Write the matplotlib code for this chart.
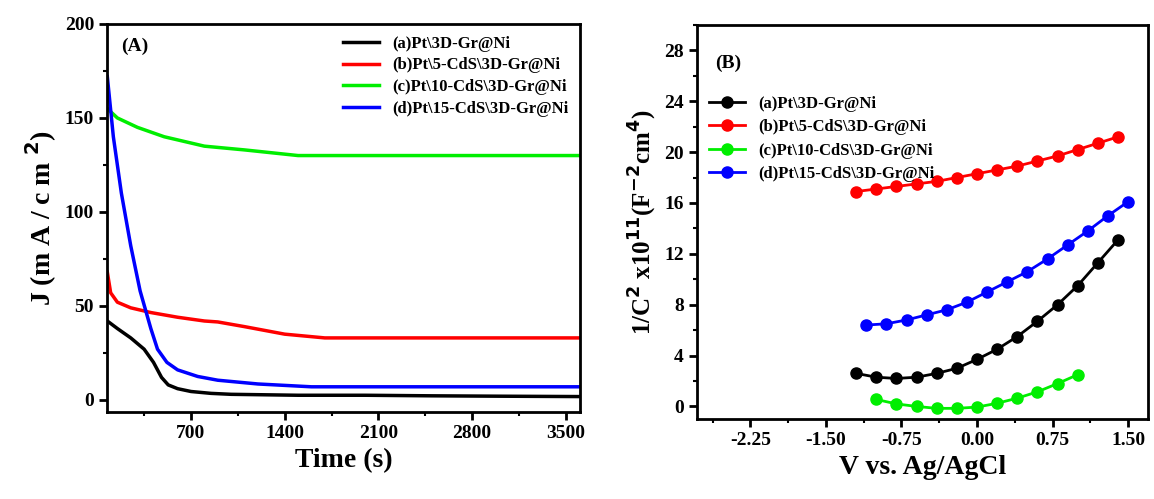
import matplotlib
matplotlib.use("Agg")
import matplotlib.pyplot as plt
import numpy as np
from matplotlib.ticker import MultipleLocator

plt.rcParams['font.family'] = ['Liberation Serif', 'DejaVu Serif']
plt.rcParams['font.weight'] = 'bold'
plt.rcParams['axes.unicode_minus'] = False

labels = [r"(a)Pt\3D-Gr@Ni", r"(b)Pt\5-CdS\3D-Gr@Ni", r"(c)Pt\10-CdS\3D-Gr@Ni", r"(d)Pt\15-CdS\3D-Gr@Ni"]
colors = ["black", "red", "#00ee00", "blue"]

# Panel A
tA_black = [75, 150, 250, 350, 420, 480, 530, 600, 700, 850, 1000, 1500, 2000, 2500, 3000, 3600]
jA_black = [42, 38, 33, 27, 20, 12, 8, 6, 4.5, 3.5, 3, 2.5, 2.5, 2.2, 2, 1.8]
tA_red = [75, 100, 150, 250, 400, 600, 800, 900, 1100, 1400, 1700, 2500, 3600]
jA_red = [68, 57, 52, 49, 46.5, 44, 42, 41.5, 39, 35, 33, 33, 33]
tA_green = [75, 150, 300, 500, 800, 1100, 1500, 2500, 3600]
jA_green = [155, 150, 145, 140, 135, 133, 130, 130, 130]
tA_blue = [75, 120, 180, 250, 320, 400, 450, 520, 600, 750, 900, 1200, 1600, 2500, 3600]
jA_blue = [172, 140, 110, 82, 58, 38, 27, 20, 16, 12.5, 10.5, 8.5, 7, 7, 7]

# Panel B
vB_black = [-1.2, -1.0, -0.8, -0.6, -0.4, -0.2, 0.0, 0.2, 0.4, 0.6, 0.8, 1.0, 1.2, 1.4]
cB_black = [2.6, 2.3, 2.2, 2.3, 2.6, 3.0, 3.7, 4.5, 5.5, 6.7, 8.0, 9.5, 11.3, 13.1]
vB_red = [-1.2, -1.0, -0.8, -0.6, -0.4, -0.2, 0.0, 0.2, 0.4, 0.6, 0.8, 1.0, 1.2, 1.4]
cB_red = [16.9, 17.1, 17.3, 17.5, 17.7, 18.0, 18.3, 18.6, 18.9, 19.3, 19.7, 20.2, 20.7, 21.2]
vB_green = [-1.0, -0.8, -0.6, -0.4, -0.2, 0.0, 0.2, 0.4, 0.6, 0.8, 1.0]
cB_green = [0.55, 0.2, 0.0, -0.15, -0.15, -0.05, 0.25, 0.65, 1.15, 1.8, 2.5]
vB_blue = [-1.1, -0.9, -0.7, -0.5, -0.3, -0.1, 0.1, 0.3, 0.5, 0.7, 0.9, 1.1, 1.3, 1.5]
cB_blue = [6.4, 6.5, 6.8, 7.2, 7.6, 8.2, 9.0, 9.8, 10.6, 11.6, 12.7, 13.8, 15.0, 16.1]

fig = plt.figure(figsize=(11.54, 4.99), dpi=100)
axA = fig.add_axes([0.093, 0.174, 0.410, 0.778])
axB = fig.add_axes([0.604, 0.160, 0.391, 0.790])

for t, j, c, l in zip([tA_black, tA_red, tA_green, tA_blue], [jA_black, jA_red, jA_green, jA_blue], colors, labels):
    axA.plot(t, j, color=c, lw=2.5, label=l)
axA.set_xlim(75, 3610)
axA.set_ylim(-6.5, 200)
axA.set_xticks([700, 1400, 2100, 2800, 3500])
axA.xaxis.set_minor_locator(MultipleLocator(350))
axA.yaxis.set_major_locator(MultipleLocator(50))
axA.yaxis.set_minor_locator(MultipleLocator(25))
axA.set_xlabel("Time (s)", fontsize=20, fontweight='bold')
axA.set_ylabel(r"J (m A / c m $^{\mathbf{2}}$)", fontsize=20, fontweight='bold')
axA.text(0.03, 0.93, "(A)", transform=axA.transAxes, fontsize=14, fontweight='bold')
axA.legend(loc='upper right', frameon=False, fontsize=12, handlelength=2.2, borderaxespad=0.3, labelspacing=0.35)

for v, cc, c, l in zip([vB_black, vB_red, vB_green, vB_blue], [cB_black, cB_red, cB_green, cB_blue], colors, labels):
    axB.plot(v, cc, color=c, lw=2, marker='o', ms=8, mec=c, label=l)
axB.set_xlim(-2.78, 1.70)
axB.set_ylim(-1.0, 30)
axB.set_xticks([-2.25, -1.50, -0.75, 0.00, 0.75, 1.50])
axB.xaxis.set_minor_locator(MultipleLocator(0.375))
axB.yaxis.set_major_locator(MultipleLocator(4))
axB.yaxis.set_minor_locator(MultipleLocator(2))
axB.set_xlabel("V vs. Ag/AgCl", fontsize=20, fontweight='bold')
axB.set_ylabel(r"1/C$^{\mathbf{2}}$ x10$^{\mathbf{11}}$(F$^{\mathbf{-2}}$cm$^{\mathbf{4}}$)", fontsize=18, fontweight='bold')
axB.text(0.04, 0.89, "(B)", transform=axB.transAxes, fontsize=14, fontweight='bold')
axB.legend(loc='upper left', bbox_to_anchor=(0.0, 0.85), frameon=False, fontsize=12, handlelength=2.2, labelspacing=0.45, borderaxespad=0.3)

for ax in (axA, axB):
    for s in ax.spines.values():
        s.set_linewidth(2)
    ax.tick_params(which='major', direction='out', length=6, width=2, labelsize=14)
    ax.tick_params(which='minor', direction='out', length=3, width=1.5)
    for lab in ax.get_xticklabels() + ax.get_yticklabels():
        lab.set_fontweight('bold')

fig.savefig("out.png", dpi=100)
